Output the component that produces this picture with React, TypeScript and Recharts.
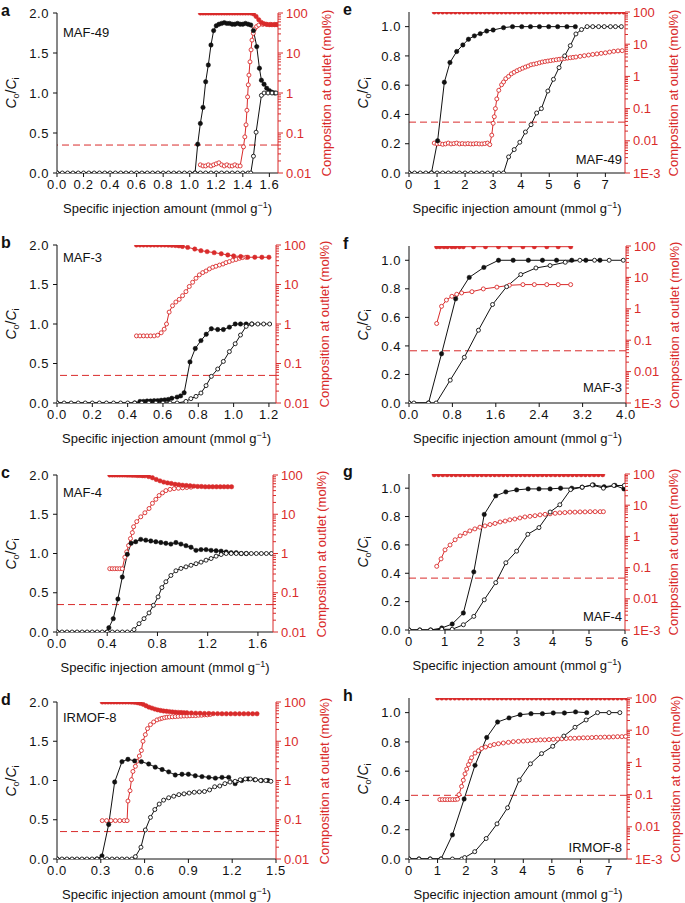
import React from "react";
import { ComposedChart, Line, XAxis, YAxis, ReferenceLine } from "recharts";

const RED = "#d92b2b";
const INK = "#111111";
const FONT = '"Liberation Sans", Arial, Helvetica, sans-serif';

type Pt = [number, number];

// ---------- a: MAF-49 (low injection range) ----------
const A_BLACK_FILLED: Pt[] = [[0,0],[1.04,0],[1.06,0.36],[1.08,0.62],[1.1,0.82],[1.12,1.14],[1.14,1.35],[1.16,1.6],[1.18,1.78],[1.2,1.84],[1.22,1.86],[1.24,1.87],[1.26,1.88],[1.28,1.87],[1.3,1.87],[1.32,1.86],[1.34,1.86],[1.36,1.87],[1.38,1.86],[1.4,1.86],[1.42,1.87],[1.44,1.86],[1.46,1.85],[1.48,1.78],[1.505,1.58],[1.525,1.31],[1.54,1.16],[1.56,1.11],[1.58,1.06],[1.6,1.03],[1.62,1.01],[1.64,1.0]];
const A_BLACK_OPEN: Pt[] = [[0,0],[0.04,0],[0.08,0],[0.12,0],[0.16,0],[0.2,0],[0.24,0],[0.28,0],[0.32,0],[0.36,0],[0.4,0],[0.44,0],[0.48,0],[0.52,0],[0.56,0],[0.6,0],[0.64,0],[0.68,0],[0.72,0],[0.76,0],[0.8,0],[0.84,0],[0.88,0],[0.92,0],[0.96,0],[1.0,0],[1.04,0],[1.08,0],[1.12,0],[1.16,0],[1.2,0],[1.24,0],[1.28,0],[1.32,0],[1.36,0],[1.4,0],[1.44,0],[1.46,0],[1.48,0.21],[1.5,0.51],[1.54,0.97],[1.56,1.0],[1.59,1.0],[1.62,1.0],[1.65,1.0]];
const A_RED_FILLED: Pt[] = [[1.08,100],[1.1,100],[1.12,100],[1.14,100],[1.16,100],[1.18,100],[1.2,100],[1.22,100],[1.24,100],[1.26,100],[1.28,100],[1.3,100],[1.32,100],[1.34,100],[1.36,100],[1.38,100],[1.4,100],[1.42,100],[1.44,100],[1.46,100],[1.48,95],[1.5,82],[1.52,68],[1.54,58],[1.56,54],[1.58,52],[1.6,51],[1.62,51],[1.64,51],[1.66,51]];
const A_RED_OPEN: Pt[] = [[1.08,0.016],[1.1,0.015],[1.12,0.015],[1.14,0.016],[1.16,0.015],[1.18,0.016],[1.2,0.017],[1.22,0.018],[1.24,0.016],[1.26,0.015],[1.28,0.016],[1.3,0.015],[1.32,0.015],[1.34,0.016],[1.36,0.015],[1.38,0.015],[1.405,0.045],[1.415,0.08],[1.424,0.16],[1.431,0.37],[1.436,0.8],[1.441,1.6],[1.446,2.8],[1.454,6],[1.462,12],[1.469,21],[1.479,31],[1.489,40],[1.504,46],[1.52,50],[1.55,52],[1.58,52],[1.61,52],[1.64,52],[1.66,52]];

// ---------- b: MAF-3 ----------
const B_BLACK_FILLED: Pt[] = [[0,0],[0.44,0],[0.47,0.02],[0.49,0.02],[0.51,0.025],[0.53,0.025],[0.55,0.03],[0.57,0.03],[0.59,0.035],[0.61,0.04],[0.63,0.045],[0.65,0.06],[0.68,0.075],[0.7,0.09],[0.72,0.13],[0.753,0.52],[0.783,0.69],[0.815,0.79],[0.845,0.87],[0.874,0.94],[0.91,0.93],[0.942,0.93],[0.976,0.96],[1.009,1.0],[1.039,1.0],[1.071,1.0],[1.103,1.0]];
const B_BLACK_OPEN: Pt[] = [[0,0],[0.04,0],[0.08,0],[0.12,0],[0.16,0],[0.2,0],[0.24,0],[0.28,0],[0.32,0],[0.36,0],[0.4,0],[0.44,0],[0.48,0],[0.52,0],[0.56,0],[0.6,0],[0.64,0],[0.68,0],[0.73,0.02],[0.758,0.055],[0.787,0.084],[0.815,0.126],[0.844,0.22],[0.874,0.337],[0.91,0.43],[0.942,0.526],[0.976,0.65],[1.009,0.75],[1.039,0.86],[1.071,0.97],[1.103,1.0],[1.137,1.0],[1.17,1.0],[1.204,1.0]];
const B_RED_FILLED: Pt[] = [[0.45,100],[0.47,100],[0.49,100],[0.51,100],[0.53,100],[0.55,100],[0.57,100],[0.59,100],[0.61,100],[0.63,99],[0.65,98],[0.67,97],[0.69,95],[0.71,92],[0.74,87],[0.78,79],[0.815,72],[0.85,68],[0.89,64],[0.93,60],[0.967,56],[1.0,53],[1.04,51],[1.08,49],[1.12,49],[1.16,49],[1.2,49]];
const B_RED_OPEN: Pt[] = [[0.45,0.5],[0.47,0.5],[0.49,0.5],[0.51,0.5],[0.53,0.5],[0.55,0.5],[0.57,0.52],[0.59,0.6],[0.607,0.74],[0.62,1.0],[0.635,2.0],[0.654,2.9],[0.673,3.6],[0.692,4.2],[0.711,5.2],[0.73,6.6],[0.749,8.9],[0.768,11.4],[0.787,14.4],[0.806,17.5],[0.825,20],[0.844,22],[0.863,24.8],[0.882,27.3],[0.9,29],[0.92,31],[0.94,33],[0.957,35.8],[0.976,38],[0.995,41],[1.014,43],[1.033,46],[1.05,48],[1.07,49]];

// ---------- c: MAF-4 ----------
const C_BLACK_FILLED: Pt[] = [[0,0],[0.4,0],[0.413,0.055],[0.448,0.17],[0.485,0.42],[0.52,0.7],[0.56,0.99],[0.59,1.13],[0.627,1.15],[0.667,1.18],[0.707,1.17],[0.747,1.16],[0.787,1.15],[0.827,1.14],[0.867,1.13],[0.907,1.12],[0.947,1.14],[0.987,1.12],[1.027,1.1],[1.067,1.08],[1.107,1.04],[1.147,1.05],[1.187,1.05],[1.227,1.04],[1.267,1.035],[1.307,1.03],[1.347,1.02],[1.387,1.01],[1.427,1.01],[1.467,1.0],[1.507,1.0]];
const C_BLACK_OPEN: Pt[] = [[0,0],[0.04,0],[0.08,0],[0.12,0],[0.16,0],[0.2,0],[0.24,0],[0.28,0],[0.32,0],[0.36,0],[0.4,0],[0.44,0],[0.48,0],[0.52,0],[0.56,0],[0.6,0],[0.613,0.03],[0.653,0.106],[0.693,0.17],[0.733,0.243],[0.768,0.34],[0.805,0.447],[0.835,0.566],[0.867,0.64],[0.907,0.72],[0.947,0.78],[0.987,0.81],[1.027,0.83],[1.067,0.85],[1.107,0.87],[1.147,0.89],[1.187,0.915],[1.227,0.936],[1.267,0.966],[1.307,0.987],[1.347,1.0],[1.387,1.0],[1.427,1.0],[1.467,1.0],[1.507,1.0],[1.547,1.0],[1.587,1.0],[1.627,1.0],[1.667,1.0],[1.707,1.0]];
const C_RED_FILLED: Pt[] = [[0.42,100],[0.44,100],[0.46,100],[0.48,100],[0.5,100],[0.52,100],[0.54,100],[0.56,99],[0.58,99],[0.6,98],[0.62,98],[0.64,97],[0.66,97],[0.68,96],[0.7,95],[0.73,91],[0.76,85],[0.79,77],[0.82,71],[0.85,66],[0.88,63],[0.91,61],[0.94,58],[0.97,57],[1.0,55],[1.03,54],[1.06,53],[1.09,52],[1.12,51],[1.15,51],[1.18,50],[1.21,50],[1.24,50],[1.27,50],[1.3,50],[1.33,50],[1.36,50],[1.39,50]];
const C_RED_OPEN: Pt[] = [[0.42,0.41],[0.44,0.41],[0.46,0.41],[0.48,0.41],[0.5,0.41],[0.52,0.41],[0.54,0.8],[0.555,1.1],[0.57,1.6],[0.585,2.4],[0.6,3.4],[0.61,4.8],[0.635,6.5],[0.667,8.6],[0.7,10.9],[0.733,14],[0.76,19],[0.787,24],[0.813,30],[0.84,35],[0.867,40],[0.9,43],[0.933,45],[0.967,46],[1.0,47],[1.033,48],[1.067,49]];

// ---------- d: IRMOF-8 ----------
const D_BLACK_FILLED: Pt[] = [[0,0],[0.274,0],[0.308,0.04],[0.354,0.44],[0.395,0.98],[0.445,1.24],[0.486,1.27],[0.532,1.25],[0.578,1.24],[0.628,1.21],[0.673,1.17],[0.72,1.14],[0.765,1.11],[0.81,1.07],[0.856,1.08],[0.9,1.08],[0.947,1.06],[0.993,1.05],[1.04,1.04],[1.085,1.03],[1.13,1.04],[1.176,1.04],[1.22,0.96],[1.265,1.0],[1.31,1.02],[1.355,1.01],[1.4,1.0],[1.445,1.0]];
const D_BLACK_OPEN: Pt[] = [[0,0],[0.034,0],[0.068,0],[0.103,0],[0.137,0],[0.171,0],[0.205,0],[0.24,0],[0.274,0],[0.308,0],[0.342,0],[0.377,0],[0.411,0],[0.445,0],[0.479,0],[0.513,0],[0.537,0.03],[0.575,0.15],[0.605,0.37],[0.64,0.53],[0.67,0.63],[0.7,0.7],[0.73,0.75],[0.765,0.78],[0.8,0.8],[0.835,0.82],[0.87,0.83],[0.905,0.84],[0.94,0.85],[0.975,0.855],[1.01,0.86],[1.045,0.88],[1.08,0.92],[1.115,0.93],[1.15,0.96],[1.185,0.98],[1.22,0.99],[1.255,1.01],[1.29,1.02],[1.325,1.02],[1.36,1.01],[1.395,1.0],[1.43,1.0],[1.465,0.99]];
const D_RED_FILLED: Pt[] = [[0.31,100],[0.33,100],[0.35,100],[0.37,100],[0.39,100],[0.41,100],[0.43,100],[0.45,100],[0.47,100],[0.49,100],[0.51,99],[0.53,98],[0.55,96],[0.57,92],[0.59,87],[0.61,80],[0.63,74],[0.65,70],[0.67,66],[0.69,63],[0.71,61],[0.73,59],[0.75,58],[0.77,57],[0.79,56],[0.81,55],[0.83,54.5],[0.85,54],[0.87,53.5],[0.89,53],[0.92,52.5],[0.95,52],[0.98,51.5],[1.01,51],[1.04,51],[1.07,50.5],[1.1,50.5],[1.13,50],[1.16,50],[1.19,50],[1.22,50],[1.25,50],[1.28,50],[1.31,50],[1.34,50],[1.37,50]];
const D_RED_OPEN: Pt[] = [[0.31,0.095],[0.34,0.095],[0.37,0.095],[0.4,0.095],[0.43,0.095],[0.46,0.095],[0.48,0.095],[0.486,0.3],[0.5,0.55],[0.51,1.05],[0.52,1.7],[0.537,2.3],[0.548,3.1],[0.564,4.2],[0.578,5.8],[0.589,10],[0.605,14.7],[0.62,21],[0.64,26.5],[0.662,31],[0.685,35],[0.705,37],[0.72,38.5],[0.737,40],[0.753,41],[0.77,41.5],[0.79,42],[0.81,42.5],[0.83,43],[0.85,43.5],[0.87,44],[0.89,44],[0.91,44.5],[0.93,45],[0.95,45],[0.97,46],[0.99,46],[1.01,47],[1.03,47],[1.05,48]];

// ---------- e: MAF-49 (wide range) ----------
const E_BLACK_FILLED: Pt[] = [[0,0],[0.8,0],[1.02,0.22],[1.26,0.62],[1.46,0.755],[1.7,0.83],[1.92,0.875],[2.12,0.914],[2.33,0.937],[2.54,0.952],[2.77,0.97],[3.0,0.977],[3.37,0.993],[3.69,1.0],[4.02,1.0],[4.33,1.0],[4.65,1.0],[4.98,1.0],[5.3,1.0],[5.63,1.0],[5.93,1.0]];
const E_BLACK_OPEN: Pt[] = [[0,0],[0.2,0],[0.4,0],[0.6,0],[0.8,0],[1.0,0],[1.2,0],[1.4,0],[1.6,0],[1.8,0],[2.0,0],[2.2,0],[2.4,0],[2.6,0],[2.8,0],[3.0,0],[3.2,0],[3.37,0],[3.55,0.11],[3.75,0.16],[3.95,0.21],[4.15,0.28],[4.35,0.33],[4.55,0.41],[4.72,0.44],[4.95,0.56],[5.15,0.64],[5.35,0.72],[5.55,0.8],[5.75,0.87],[5.95,0.95],[6.15,0.98],[6.35,1.0],[6.55,1.0],[6.76,1.0],[6.96,1.0],[7.18,1.0],[7.36,1.0],[7.57,1.0]];
const E_RED_FILLED: Pt[] = [[0.9,100],[1.05,100],[1.2,100],[1.35,100],[1.5,100],[1.65,100],[1.8,100],[1.95,100],[2.1,100],[2.25,100],[2.4,100],[2.55,100],[2.7,100],[2.85,100],[3.0,100],[3.15,100],[3.3,100],[3.45,100],[3.6,100],[3.75,100],[3.9,100],[4.05,100],[4.2,100],[4.35,100],[4.5,100],[4.65,100],[4.8,100],[4.95,100],[5.1,100],[5.25,100],[5.4,100],[5.55,100],[5.7,100],[5.85,100],[6.0,100],[6.15,100],[6.3,100],[6.45,100],[6.6,100],[6.75,100],[6.9,100],[7.05,100],[7.2,100],[7.35,100],[7.5,100],[7.65,100]];
const E_RED_OPEN: Pt[] = [[0.9,0.0085],[1.0,0.008],[1.1,0.0082],[1.2,0.0078],[1.3,0.008],[1.4,0.0085],[1.5,0.008],[1.6,0.0082],[1.7,0.0085],[1.8,0.008],[1.9,0.0082],[2.0,0.008],[2.1,0.0082],[2.2,0.008],[2.3,0.008],[2.4,0.0082],[2.5,0.008],[2.6,0.008],[2.7,0.0082],[2.8,0.0085],[2.88,0.0076],[2.95,0.015],[3.0,0.035],[3.04,0.056],[3.08,0.1],[3.13,0.2],[3.2,0.37],[3.3,0.55],[3.37,0.67],[3.45,0.85],[3.55,1.0],[3.65,1.2],[3.75,1.35],[3.85,1.5],[3.95,1.65],[4.05,1.8],[4.15,1.95],[4.25,2.1],[4.35,2.3],[4.45,2.4],[4.55,2.5],[4.65,2.65],[4.75,2.8],[4.85,2.9],[4.95,3.0],[5.05,3.1],[5.15,3.2],[5.25,3.3],[5.35,3.4],[5.45,3.5],[5.55,3.6],[5.65,3.7],[5.75,3.8],[5.85,3.9],[5.95,4.0],[6.1,4.2],[6.25,4.4],[6.4,4.6],[6.55,4.8],[6.7,5.0],[6.85,5.2],[7.0,5.4],[7.15,5.7],[7.3,6.0],[7.45,6.2],[7.6,6.3]];

// ---------- f: MAF-3 (wide range) ----------
const F_BLACK_FILLED: Pt[] = [[0,0],[0.36,0],[0.6,0.345],[0.86,0.73],[1.11,0.88],[1.38,0.95],[1.65,1.0],[1.92,1.0],[2.2,1.0],[2.46,1.0],[2.72,1.0],[3.0,1.0],[3.26,1.0],[3.52,1.0]];
const F_BLACK_OPEN: Pt[] = [[0,0],[0.09,0],[0.36,0],[0.5,0],[0.76,0.16],[1.02,0.32],[1.28,0.51],[1.54,0.69],[1.8,0.815],[2.06,0.9],[2.34,0.946],[2.6,0.963],[2.88,0.986],[3.15,1.0],[3.42,1.0],[3.69,1.0],[3.95,1.0]];
const F_RED_FILLED: Pt[] = [[0.51,95],[0.57,95],[0.645,95],[0.71,95],[0.79,95],[0.85,95],[0.93,95],[1.0,95],[1.19,95],[1.41,95],[1.65,95],[1.86,95],[2.1,95],[2.31,95],[2.54,95],[2.75,95],[2.98,95]];
const F_RED_OPEN: Pt[] = [[0.51,0.34],[0.6,1.2],[0.69,1.9],[0.79,2.5],[0.88,2.9],[0.97,3.2],[1.16,3.5],[1.37,4.3],[1.62,4.9],[1.85,5.6],[2.1,5.9],[2.31,5.9],[2.54,5.9],[2.75,5.9],[2.98,5.9]];

// ---------- g: MAF-4 (wide range) ----------
const G_BLACK_FILLED: Pt[] = [[0,0],[0.3,0],[0.6,0],[0.91,0.014],[1.2,0.042],[1.51,0.12],[1.8,0.41],[2.09,0.815],[2.41,0.946],[2.69,0.974],[2.99,0.988],[3.31,0.995],[3.61,0.995],[3.92,0.995],[4.21,1.0],[4.52,1.0],[4.81,1.007],[5.12,1.023],[5.42,1.01],[5.72,1.02],[5.97,0.995]];
const G_BLACK_OPEN: Pt[] = [[0,0],[0.3,0],[0.6,0],[0.91,0.005],[1.2,0.005],[1.51,0.037],[1.8,0.096],[2.09,0.213],[2.41,0.334],[2.69,0.474],[2.99,0.556],[3.3,0.675],[3.61,0.722],[3.92,0.832],[4.19,0.883],[4.49,0.99],[4.81,1.007],[5.09,1.023],[5.4,1.0],[5.69,1.019],[5.98,1.019]];
const G_RED_FILLED: Pt[] = [[0.7,95],[0.82,95],[0.94,95],[1.06,95],[1.18,95],[1.3,95],[1.42,95],[1.54,95],[1.66,95],[1.78,95],[1.9,95],[2.02,95],[2.14,95],[2.26,95],[2.38,95],[2.5,95],[2.62,95],[2.74,95],[2.86,95],[2.98,95],[3.1,95],[3.22,95],[3.34,95],[3.46,95],[3.58,95],[3.7,95],[3.82,95],[3.94,95],[4.06,95],[4.18,95],[4.3,95],[4.42,95],[4.54,95],[4.66,95],[4.78,95],[4.9,95],[5.02,95],[5.14,95],[5.26,95],[5.38,95]];
const G_RED_OPEN: Pt[] = [[0.77,0.11],[0.89,0.19],[1.0,0.37],[1.14,0.53],[1.28,0.78],[1.42,1.04],[1.56,1.26],[1.69,1.5],[1.83,1.74],[1.97,1.97],[2.11,2.17],[2.25,2.4],[2.39,2.6],[2.53,2.9],[2.67,3.1],[2.8,3.4],[2.94,3.6],[3.08,3.9],[3.22,4.2],[3.36,4.4],[3.5,4.6],[3.64,4.9],[3.78,5.1],[3.92,5.3],[4.06,5.5],[4.19,5.7],[4.33,5.8],[4.47,6.0],[4.61,6.0],[4.75,6.1],[4.89,6.1],[5.03,6.2],[5.17,6.2],[5.31,6.2],[5.4,6.2]];

// ---------- h: IRMOF-8 (wide range) ----------
const H_BLACK_FILLED: Pt[] = [[0,0],[0.35,0],[0.74,0],[1.12,0],[1.52,0.165],[1.93,0.41],[2.31,0.64],[2.72,0.83],[3.1,0.936],[3.5,0.964],[3.89,0.986],[4.27,0.993],[4.67,0.993],[5.05,0.998],[5.44,0.998],[5.83,1.005],[6.22,1.0]];
const H_BLACK_OPEN: Pt[] = [[0,0],[0.35,0],[0.74,0],[1.12,0],[1.52,0],[1.85,0],[1.95,0.01],[2.3,0.05],[2.7,0.14],[3.08,0.24],[3.45,0.35],[3.86,0.54],[4.25,0.65],[4.64,0.72],[5.03,0.77],[5.42,0.84],[5.81,0.9],[6.2,0.95],[6.6,1.0],[7.0,1.0],[7.38,1.0]];
const H_RED_FILLED: Pt[] = [[1.0,100],[1.15,100],[1.3,100],[1.45,100],[1.6,100],[1.75,100],[1.9,100],[2.05,100],[2.2,100],[2.35,100],[2.5,100],[2.65,100],[2.8,100],[2.95,100],[3.1,100],[3.25,100],[3.4,100],[3.55,100],[3.7,100],[3.85,100],[4.0,100],[4.15,100],[4.3,100],[4.45,100],[4.6,100],[4.75,100],[4.9,100],[5.05,100],[5.2,100],[5.35,100],[5.5,100],[5.65,100],[5.8,100],[5.95,100],[6.1,100],[6.25,100],[6.4,100],[6.55,100],[6.7,100],[6.85,100],[7.0,100],[7.15,100],[7.3,100],[7.45,100],[7.6,100]];
const H_RED_OPEN: Pt[] = [[1.08,0.07],[1.17,0.07],[1.26,0.07],[1.35,0.07],[1.44,0.07],[1.53,0.07],[1.62,0.07],[1.7,0.072],[1.75,0.1],[1.84,0.18],[1.9,0.28],[1.96,0.44],[2.02,0.62],[2.08,0.85],[2.14,1.1],[2.19,1.4],[2.31,1.95],[2.43,2.3],[2.54,2.7],[2.68,3.0],[2.84,3.3],[2.98,3.6],[3.13,3.8],[3.3,4.0],[3.48,4.2],[3.65,4.4],[3.83,4.5],[4.0,4.6],[4.15,4.7],[4.3,4.8],[4.45,4.9],[4.6,5.0],[4.75,5.0],[4.9,5.1],[5.05,5.2],[5.2,5.3],[5.35,5.4],[5.5,5.5],[5.65,5.6],[5.8,5.6],[5.95,5.7],[6.1,5.8],[6.25,5.8],[6.4,5.9],[6.55,6.0],[6.7,6.0],[6.85,6.1],[7.0,6.1],[7.15,6.2],[7.3,6.3],[7.45,6.3],[7.58,6.4]];

// ---------- ticks ----------
const X_TICKS_A = [0, 0.2, 0.4, 0.6, 0.8, 1.0, 1.2, 1.4, 1.6];
const X_TICKS_B = [0, 0.2, 0.4, 0.6, 0.8, 1.0, 1.2];
const X_TICKS_C = [0, 0.4, 0.8, 1.2, 1.6];
const X_TICKS_D = [0, 0.3, 0.6, 0.9, 1.2, 1.5];
const X_TICKS_E = [0, 1, 2, 3, 4, 5, 6, 7];
const X_TICKS_F = [0, 0.8, 1.6, 2.4, 3.2, 4.0];
const X_TICKS_G = [0, 1, 2, 3, 4, 5, 6];
const Y_TICKS_TALL = [0, 0.5, 1.0, 1.5, 2.0];
const Y_TICKS_SHORT = [0, 0.2, 0.4, 0.6, 0.8, 1.0];
const LOG_MAJOR_4 = [0.01, 0.1, 1, 10, 100];
const LOG_MAJOR_5 = [0.001, 0.01, 0.1, 1, 10, 100];
const LOG_MINOR_STEPS = [2, 3, 4, 5, 6, 7, 8, 9];

function withMinor(majors: number[]) {
  const out: number[] = [];
  majors.forEach((d, i) => {
    out.push(d);
    if (i < majors.length - 1) LOG_MINOR_STEPS.forEach((m) => out.push(+(d * m).toPrecision(3)));
  });
  return out;
}

const rows = (a: Pt[]) => a.map(([x, y]) => ({ x, y }));

function LogTick(props: any) {
  const { x, y, payload } = props;
  const v = payload.value as number;
  const lg = Math.log10(v);
  const major = Math.abs(lg - Math.round(lg)) < 1e-6;
  const label = v < 0.005 ? "1E-3" : String(v);
  return (
    <g>
      <line x1={x} x2={x + (major ? 5 : 3)} y1={y} y2={y} stroke={RED} strokeWidth={1} />
      {major && (
        <text x={x + 8} y={y} dy="0.36em" fill={RED} fontSize={13} fontFamily={FONT}>
          {label}
        </text>
      )}
    </g>
  );
}

type PanelCfg = {
  letter: string;
  name: string;
  nameRight: boolean;
  nameY: number;
  col: number;
  plotL: number;
  plotR: number;
  plotT: number;
  plotB: number;
  xMax: number;
  xTicks: number[];
  xDigits: number;
  yMax: number;
  yTicks: number[];
  logMin: number;
  logMajor: number[];
  cut: number;
  bf: Pt[];
  bo: Pt[];
  rf: Pt[];
  ro: Pt[];
};

const PANELS: PanelCfg[] = [
  { letter: "a", name: "MAF-49", nameRight: false, nameY: 33, col: 0, plotL: 57, plotR: 278, plotT: 13, plotB: 173, xMax: 1.665, xTicks: X_TICKS_A, xDigits: 1, yMax: 2, yTicks: Y_TICKS_TALL, logMin: 0.01, logMajor: LOG_MAJOR_4, cut: 0.05, bf: A_BLACK_FILLED, bo: A_BLACK_OPEN, rf: A_RED_FILLED, ro: A_RED_OPEN },
  { letter: "b", name: "MAF-3", nameRight: false, nameY: 258, col: 0, plotL: 57, plotR: 276, plotT: 245, plotB: 403, xMax: 1.24, xTicks: X_TICKS_B, xDigits: 1, yMax: 2, yTicks: Y_TICKS_TALL, logMin: 0.01, logMajor: LOG_MAJOR_4, cut: 0.05, bf: B_BLACK_FILLED, bo: B_BLACK_OPEN, rf: B_RED_FILLED, ro: B_RED_OPEN },
  { letter: "c", name: "MAF-4", nameRight: false, nameY: 493, col: 0, plotL: 57, plotR: 273, plotT: 475, plotB: 632, xMax: 1.72, xTicks: X_TICKS_C, xDigits: 1, yMax: 2, yTicks: Y_TICKS_TALL, logMin: 0.01, logMajor: LOG_MAJOR_4, cut: 0.05, bf: C_BLACK_FILLED, bo: C_BLACK_OPEN, rf: C_RED_FILLED, ro: C_RED_OPEN },
  { letter: "d", name: "IRMOF-8", nameRight: false, nameY: 718, col: 0, plotL: 57, plotR: 276, plotT: 702, plotB: 859, xMax: 1.5, xTicks: X_TICKS_D, xDigits: 1, yMax: 2, yTicks: Y_TICKS_TALL, logMin: 0.01, logMajor: LOG_MAJOR_4, cut: 0.05, bf: D_BLACK_FILLED, bo: D_BLACK_OPEN, rf: D_RED_FILLED, ro: D_RED_OPEN },
  { letter: "e", name: "MAF-49", nameRight: true, nameY: 160, col: 342, plotL: 409, plotR: 625, plotT: 12, plotB: 173, xMax: 7.7, xTicks: X_TICKS_E, xDigits: 0, yMax: 1.1, yTicks: Y_TICKS_SHORT, logMin: 0.001, logMajor: LOG_MAJOR_5, cut: 0.038, bf: E_BLACK_FILLED, bo: E_BLACK_OPEN, rf: E_RED_FILLED, ro: E_RED_OPEN },
  { letter: "f", name: "MAF-3", nameRight: true, nameY: 388, col: 342, plotL: 409, plotR: 626, plotT: 246, plotB: 403, xMax: 4.0, xTicks: X_TICKS_F, xDigits: 1, yMax: 1.1, yTicks: Y_TICKS_SHORT, logMin: 0.001, logMajor: LOG_MAJOR_5, cut: 0.046, bf: F_BLACK_FILLED, bo: F_BLACK_OPEN, rf: F_RED_FILLED, ro: F_RED_OPEN },
  { letter: "g", name: "MAF-4", nameRight: true, nameY: 617, col: 342, plotL: 409, plotR: 625, plotT: 474, plotB: 630, xMax: 6, xTicks: X_TICKS_G, xDigits: 0, yMax: 1.1, yTicks: Y_TICKS_SHORT, logMin: 0.001, logMajor: LOG_MAJOR_5, cut: 0.046, bf: G_BLACK_FILLED, bo: G_BLACK_OPEN, rf: G_RED_FILLED, ro: G_RED_OPEN },
  { letter: "h", name: "IRMOF-8", nameRight: true, nameY: 848, col: 342, plotL: 409, plotR: 627, plotT: 698, plotB: 859, xMax: 7.63, xTicks: X_TICKS_E, xDigits: 0, yMax: 1.1, yTicks: Y_TICKS_SHORT, logMin: 0.001, logMajor: LOG_MAJOR_5, cut: 0.095, bf: H_BLACK_FILLED, bo: H_BLACK_OPEN, rf: H_RED_FILLED, ro: H_RED_OPEN },
];

const W = 343;
const MT = 10;
const XH = 30;

function Panel({ p }: { p: PanelCfg }) {
  const H = p.plotB - p.plotT + MT + XH;
  const leftW = p.plotL - p.col;
  const rightW = p.col + W - p.plotR;
  const cy = (p.plotT + p.plotB) / 2;
  const cx = (p.plotL + p.plotR) / 2;
  const tickStyle = { fontSize: 13, fill: INK, fontFamily: FONT, letterSpacing: 0.6 };

  return (
    <>
      <div style={{ position: "absolute", left: p.col, top: p.plotT - MT }}>
        <ComposedChart width={W} height={H} margin={{ top: MT, right: 0, bottom: 0, left: 0 }}>
          <XAxis
            dataKey="x"
            type="number"
            domain={[0, p.xMax]}
            ticks={p.xTicks}
            interval={0}
            allowDataOverflow
            height={XH}
            tickSize={4}
            tickMargin={3}
            stroke={INK}
            tick={tickStyle}
            tickFormatter={(v: number) => v.toFixed(p.xDigits)}
          />
          <YAxis
            yAxisId="l"
            type="number"
            domain={[0, p.yMax]}
            ticks={p.yTicks}
            interval={0}
            allowDataOverflow
            width={leftW}
            tickSize={4}
            tickMargin={4}
            stroke={INK}
            tick={tickStyle}
            tickFormatter={(v: number) => v.toFixed(1)}
          />
          <YAxis
            yAxisId="r"
            orientation="right"
            type="number"
            scale="log"
            domain={[p.logMin, 100]}
            ticks={withMinor(p.logMajor)}
            interval={0}
            allowDataOverflow
            width={rightW}
            tickSize={0}
            tickMargin={0}
            tickLine={false}
            stroke={RED}
            tick={<LogTick />}
          />
          <ReferenceLine yAxisId="r" y={p.cut} stroke={RED} strokeWidth={1} strokeDasharray="7 4" />
          <Line
            yAxisId="r"
            data={rows(p.ro)}
            dataKey="y"
            stroke={RED}
            strokeWidth={1}
            dot={{ r: 2, fill: "#fff", stroke: RED, strokeWidth: 0.9 }}
            isAnimationActive={false}
          />
          <Line
            yAxisId="r"
            data={rows(p.rf)}
            dataKey="y"
            stroke={RED}
            strokeWidth={1}
            dot={{ r: 2.2, fill: RED, stroke: RED, strokeWidth: 0.5 }}
            isAnimationActive={false}
          />
          <Line
            yAxisId="l"
            data={rows(p.bf)}
            dataKey="y"
            stroke={INK}
            strokeWidth={1}
            dot={{ r: 2.2, fill: INK, stroke: INK, strokeWidth: 0.5 }}
            isAnimationActive={false}
          />
          <Line
            yAxisId="l"
            data={rows(p.bo)}
            dataKey="y"
            stroke={INK}
            strokeWidth={1}
            dot={{ r: 2, fill: "#fff", stroke: INK, strokeWidth: 0.9 }}
            isAnimationActive={false}
          />
        </ComposedChart>
      </div>

      <div style={{ position: "absolute", left: p.col + 1, top: p.plotT - 11, fontSize: 16, fontWeight: 700, fontFamily: FONT, color: INK }}>
        {p.letter}
      </div>

      <div
        style={{
          position: "absolute",
          top: p.nameY - 8,
          ...(p.nameRight ? { right: 685 - 622 } : { left: p.plotL + 6 }),
          fontSize: 13,
          fontFamily: FONT,
          color: INK,
          whiteSpace: "nowrap",
        }}
      >
        {p.name}
      </div>

      <div
        style={{
          position: "absolute",
          left: p.plotL - 45,
          top: cy,
          transform: "translate(-50%, -50%) rotate(-90deg)",
          fontSize: 14,
          fontFamily: FONT,
          color: INK,
          whiteSpace: "nowrap",
        }}
      >
        <i>C</i>
        <sub style={{ fontSize: 9 }}>o</sub>/<i>C</i>
        <sub style={{ fontSize: 9 }}>i</sub>
      </div>

      <div
        style={{
          position: "absolute",
          left: p.plotR + 48,
          top: cy,
          transform: "translate(-50%, -50%) rotate(-90deg)",
          fontSize: 13,
          fontFamily: FONT,
          color: RED,
          whiteSpace: "nowrap",
        }}
      >
        Composition at outlet (mol%)
      </div>

      <div
        style={{
          position: "absolute",
          left: cx,
          top: p.plotB + 35,
          transform: "translate(-50%, -50%)",
          fontSize: 13,
          fontFamily: FONT,
          color: INK,
          whiteSpace: "nowrap",
        }}
      >
        Specific injection amount (mmol g<sup style={{ fontSize: 9 }}>−1</sup>)
      </div>
    </>
  );
}

export default function App() {
  return (
    <div style={{ position: "absolute", left: 0, top: 0, width: 685, height: 903, background: "#fff", overflow: "hidden" }}>
      {PANELS.map((p) => (
        <Panel key={p.letter} p={p} />
      ))}
    </div>
  );
}
